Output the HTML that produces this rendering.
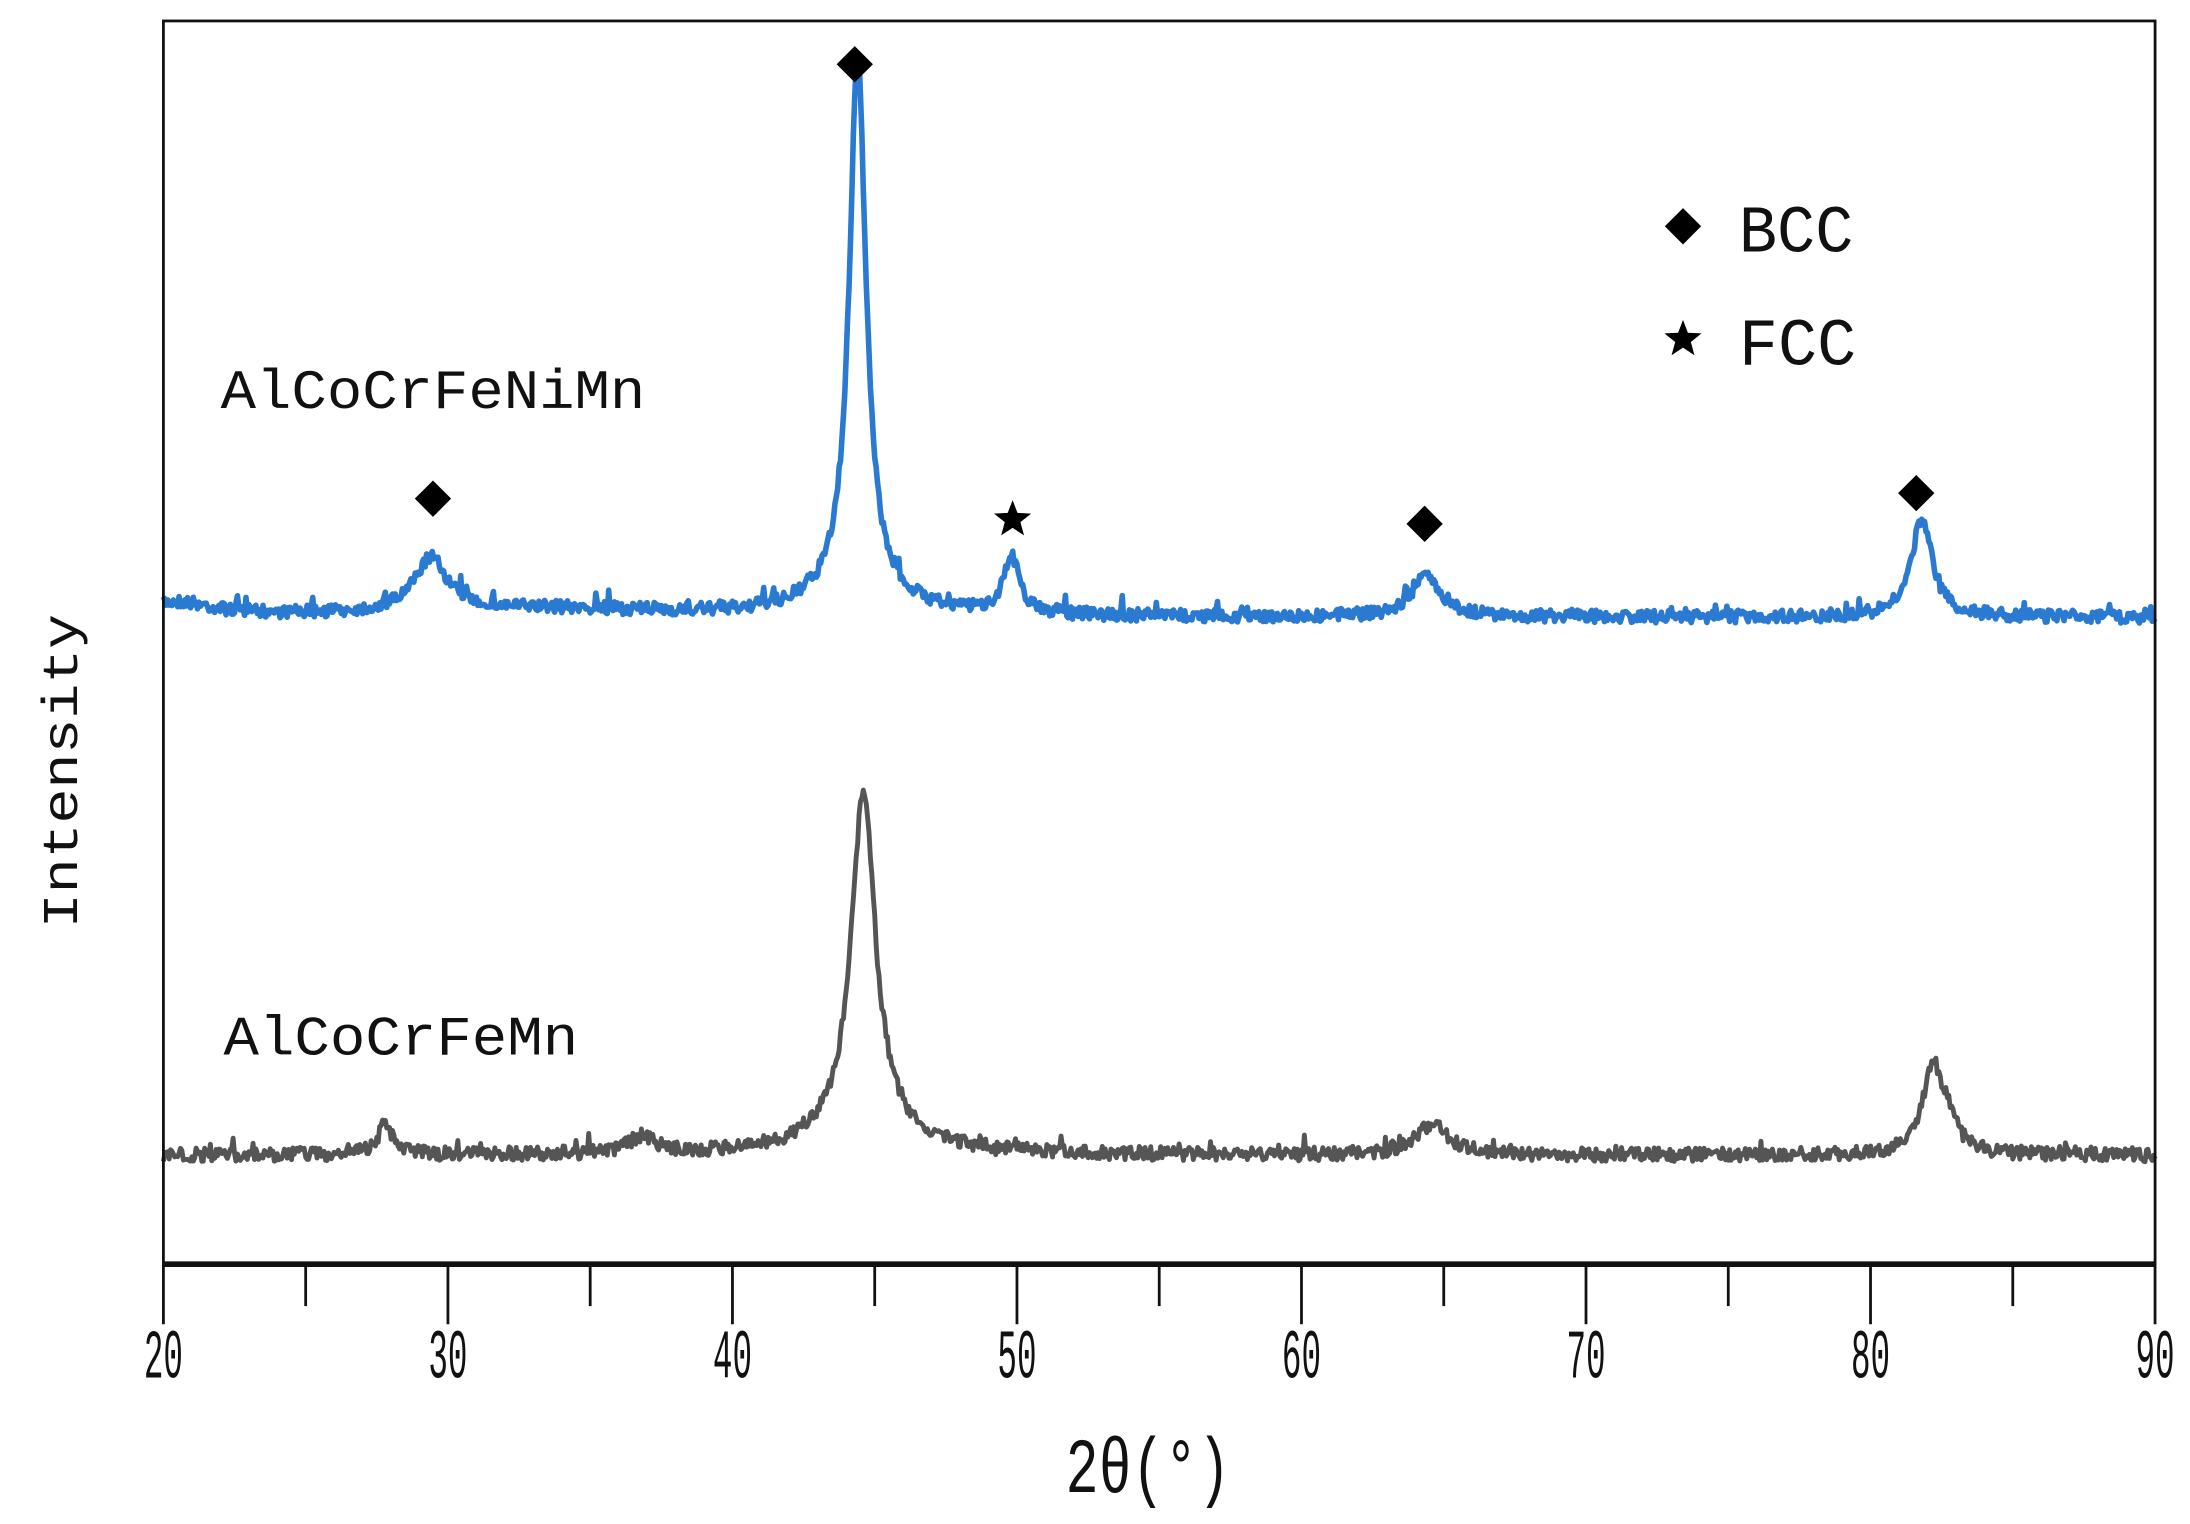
<!DOCTYPE html>
<html><head><meta charset="utf-8"><style>html,body{margin:0;padding:0;background:#fff}svg{display:block}</style></head>
<body>
<svg id="s" width="2190" height="1524" viewBox="0 0 1568 1091" preserveAspectRatio="none" xmlns="http://www.w3.org/2000/svg">
<rect width="1568" height="1091" fill="#fff"/>
<g id="series"></g>
<rect x="117" y="15" width="1426" height="890" fill="none" stroke="#111" stroke-width="2"/>
<line x1="117" y1="905" x2="1543" y2="905" stroke="#111" stroke-width="4"/>
<g id="ticks" stroke="#111" stroke-width="2"></g>
<g font-family="Liberation Mono, monospace" font-size="50" fill="#111" text-anchor="middle" id="tl"></g>
<text x="822" y="1068" font-family="Liberation Mono, monospace" font-size="56" text-anchor="middle" fill="#111" textLength="118" lengthAdjust="spacingAndGlyphs">2θ(°)</text>
<text transform="translate(55,552) rotate(-90)" font-family="Liberation Mono, monospace" font-size="36" text-anchor="middle" fill="#111" textLength="225" lengthAdjust="spacingAndGlyphs">Intensity</text>
<text x="158" y="292" font-family="Liberation Mono, monospace" font-size="40" fill="#111" textLength="304" lengthAdjust="spacingAndGlyphs">AlCoCrFeNiMn</text>
<text x="160" y="755" font-family="Liberation Mono, monospace" font-size="40" fill="#111" textLength="254" lengthAdjust="spacingAndGlyphs">AlCoCrFeMn</text>
<text x="1245" y="180" font-family="Liberation Mono, monospace" font-size="48" fill="#111" textLength="82" lengthAdjust="spacingAndGlyphs">BCC</text>
<text x="1245" y="261" font-family="Liberation Mono, monospace" font-size="48" fill="#111" textLength="84" lengthAdjust="spacingAndGlyphs">FCC</text>
<g id="mk" fill="#000"></g>
</svg>
<script>
var NS="http://www.w3.org/2000/svg";
function X(v){return 117+(v-20)*20.371;}
var seed=7;function r(){seed=(seed*16807)%2147483647;return seed/2147483647;}
function el(tag,a,p){var e=document.createElementNS(NS,tag);for(var k in a)e.setAttribute(k,a[k]);p.appendChild(e);return e;}
var tk=document.getElementById('ticks'),tl=document.getElementById('tl');
for(var v=20;v<=90;v+=5){var maj=v%10==0;el('line',{x1:X(v),y1:905,x2:X(v),y2:maj?948:935},tk);
 if(maj){var t=el('text',{x:X(v),y:986,textLength:28,lengthAdjust:'spacingAndGlyphs'},tl);t.textContent=v;}}
function L(x,c,w,h){var d=(x-c)/w;return h/(1+d*d);}
function build(base,slope,peaks,noise,color,sw){
 var pts=[];
 for(var v=20;v<=90;v+=0.05){
  var y=base+slope*(v-20);
  for(var i=0;i<peaks.length;i++){y-=L(v,peaks[i][0],peaks[i][1],peaks[i][2]);}
  y+=(r()-0.5)*noise+(r()<0.04?-(r()*10):0);
  pts.push(X(v).toFixed(1)+","+y.toFixed(1));
 }
 el('polyline',{points:pts.join(" "),fill:"none",stroke:color,"stroke-width":sw,"stroke-linejoin":"round"},document.getElementById('series'));
}
build(442,0.0,[[20.5,1.5,10],[29.4,0.7,38],[44.4,0.35,385],[49.8,0.35,40],[64.4,0.6,30],[81.8,0.45,70],[44.4,1.6,18],[33,6,6]],9,"#2a7ad2",4);
build(827,0.0,[[27.8,0.3,22],[36.8,0.6,12],[44.6,0.5,235],[44.6,1.6,25],[64.6,0.7,22],[82.2,0.45,65],[82.8,0.3,15]],10,"#555",3.5);
var mk=document.getElementById('mk');
function dia(x,y,s){el('polygon',{points:(x)+","+(y-s)+" "+(x+s)+","+y+" "+x+","+(y+s)+" "+(x-s)+","+y},mk);}
function star(x,y,R){var p=[];for(var i=0;i<10;i++){var rr=i%2?R*0.42:R,a=-Math.PI/2+i*Math.PI/5;p.push((x+rr*Math.cos(a)).toFixed(1)+","+(y+rr*Math.sin(a)).toFixed(1));}el('polygon',{points:p.join(" ")},mk);}
dia(612,46,13);dia(310,357,13);dia(1020,375,13);dia(1372,353,13);dia(1205,162,13);
star(725,372,14);star(1205,243,14);
</script>
</body></html>
